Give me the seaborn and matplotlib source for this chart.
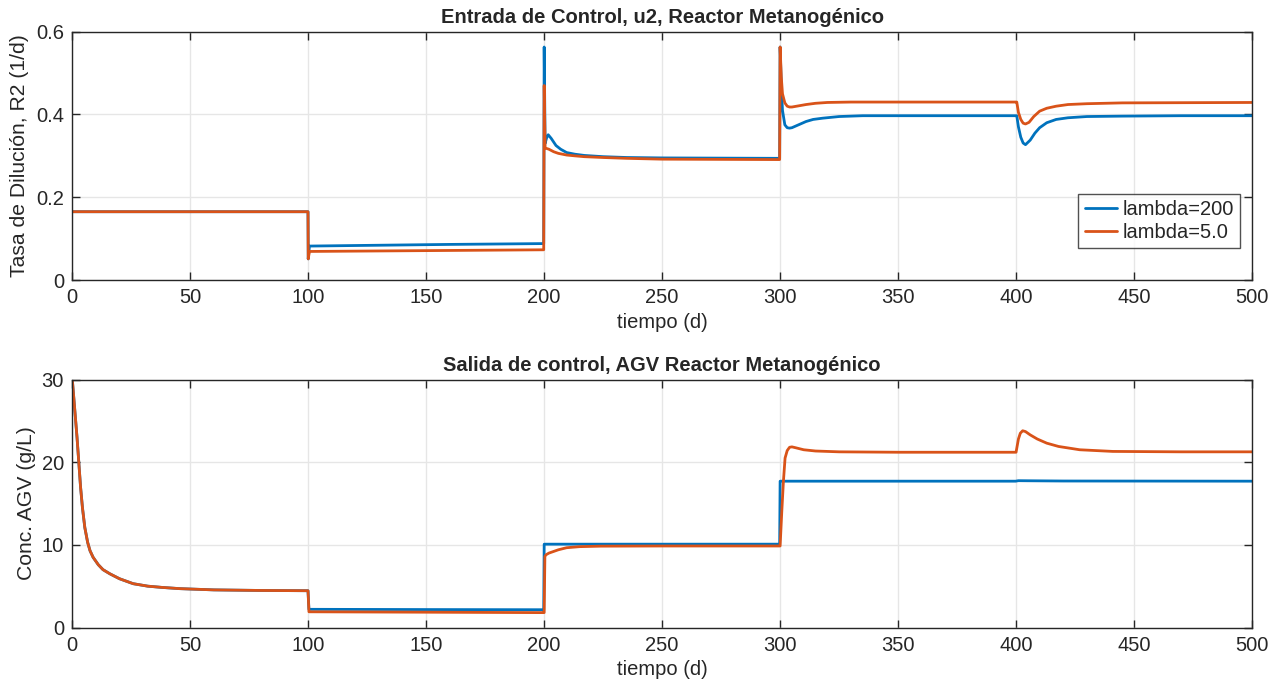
import numpy as np
import pandas as pd
import matplotlib
matplotlib.use("Agg")
import matplotlib.pyplot as plt
import seaborn as sns

# ---------------- data ----------------
series_names = ["lambda=200", "lambda=5.0"]
colors = ["#0072BD", "#D95319"]

# Top: control input u2 (dilution rate)
t_u_200 = [0, 99.9, 100, 100.5, 130, 160, 199.8, 200, 200.4, 201, 201.7, 203, 205, 207,
           209.5, 213, 217, 225, 235, 250, 299.8, 300, 300.5, 301, 302, 303, 304, 305,
           307, 309, 311, 314, 318, 325, 335, 399.8, 400.3, 401, 402, 403, 404, 406, 408,
           410, 413, 417, 422, 430, 445, 470, 500]
u_200 = [0.165, 0.165, 0.051, 0.082, 0.084, 0.086, 0.088, 0.563, 0.33, 0.343, 0.351, 0.342,
         0.325, 0.316, 0.308, 0.304, 0.301, 0.298, 0.296, 0.295, 0.294, 0.563, 0.47, 0.41,
         0.375, 0.368, 0.367, 0.368, 0.373, 0.378, 0.383, 0.388, 0.391, 0.395, 0.397,
         0.397, 0.397, 0.37, 0.345, 0.331, 0.327, 0.338, 0.355, 0.368, 0.380, 0.388, 0.392,
         0.395, 0.396, 0.397, 0.397]

t_u_5 = [0, 99.9, 100, 100.5, 150, 199.8, 200, 200.4, 202, 204, 206, 209.5, 213, 217, 225,
         235, 250, 299.8, 300, 300.5, 301, 302, 303, 304, 305, 307, 309, 311, 315, 320, 330,
         399.8, 400.3, 401, 402, 403, 404, 405.5, 407.5, 410, 413, 417, 422, 430, 445, 500]
u_5 = [0.165, 0.165, 0.051, 0.069, 0.071, 0.073, 0.47, 0.319, 0.316, 0.310, 0.306, 0.302,
       0.300, 0.298, 0.296, 0.294, 0.292, 0.291, 0.563, 0.49, 0.45, 0.428, 0.420, 0.418,
       0.418, 0.420, 0.422, 0.424, 0.427, 0.429, 0.430, 0.430, 0.430, 0.405, 0.388, 0.379,
       0.377, 0.381, 0.395, 0.408, 0.415, 0.420, 0.424, 0.426, 0.428, 0.429]

# Bottom: controlled output, AGV concentration
t_y_200 = [0, 1, 2, 2.75, 3.5, 4.3, 5.3, 6.5, 7.5, 8.8, 11, 13, 15.9, 20, 25.8, 32, 38, 45.6,
           60, 80, 99.9, 100.3, 150, 199.8, 200, 299.8, 300, 399.8, 401, 405, 420, 500]
y_200 = [30, 26.5, 23, 20, 17, 14.5, 12.1, 10.3, 9.3, 8.5, 7.6, 7.0, 6.5, 5.9, 5.3, 5.0,
         4.85, 4.7, 4.55, 4.48, 4.45, 2.2, 2.17, 2.15, 10.08, 10.08, 17.7, 17.7, 17.76,
         17.75, 17.72, 17.7]

t_y_5 = [0, 1, 2, 2.75, 3.5, 4.3, 5.3, 6.5, 7.5, 8.8, 11, 13, 15.9, 20, 25.8, 32, 38, 45.6,
         60, 80, 99.9, 100.3, 150, 199.8, 200, 200.3, 200.8, 202, 204, 206, 209.5, 215, 224,
         250, 299.8, 300, 300.7, 301.4, 302.1, 303, 304, 305, 306.5, 310, 315, 325, 350,
         399.8, 400, 400.5, 401, 401.8, 402.8, 404, 406, 409, 413, 418, 427, 441, 470, 500]
y_5 = [30, 26.5, 23, 20, 17, 14.5, 12.1, 10.3, 9.3, 8.5, 7.6, 7.0, 6.5, 5.9, 5.3, 5.0,
       4.85, 4.7, 4.55, 4.48, 4.45, 1.9, 1.85, 1.8, 1.8, 8.6, 8.8, 9.0, 9.2, 9.4, 9.65,
       9.78, 9.84, 9.86, 9.86, 9.86, 14.0, 17.7, 20.5, 21.4, 21.8, 21.85, 21.75, 21.5,
       21.35, 21.25, 21.2, 21.2, 21.2, 22.0, 22.8, 23.5, 23.8, 23.7, 23.3, 22.8, 22.3,
       21.9, 21.5, 21.3, 21.25, 21.25]

x_ticks = [0, 50, 100, 150, 200, 250, 300, 350, 400, 450, 500]
top_yticks = [0, 0.2, 0.4, 0.6]
top_yticklabels = ["0", "0.2", "0.4", "0.6"]
bot_yticks = [0, 10, 20, 30]

# ---------------- style ----------------
sns.set_theme(style="white")
plt.rcParams["font.family"] = ["Liberation Sans", "DejaVu Sans"]

fig = plt.figure(figsize=(12.83, 6.92), dpi=100)
ax1 = fig.add_axes([72.3 / 1283, 1 - 280 / 692, (1252 - 72.3) / 1283, (280 - 31.7) / 692])
ax2 = fig.add_axes([72.3 / 1283, 1 - 627.5 / 692, (1252 - 72.3) / 1283, (627.5 - 379.5) / 692])

def plot_series(ax, tx, vy, name, color):
    df = pd.DataFrame({"t": tx, "v": vy})
    sns.lineplot(data=df, x="t", y="v", ax=ax, color=color, linewidth=2.0,
                 estimator=None, sort=False, label=name)

plot_series(ax1, t_u_200, u_200, series_names[0], colors[0])
plot_series(ax1, t_u_5, u_5, series_names[1], colors[1])
plot_series(ax2, t_y_200, y_200, series_names[0], colors[0])
plot_series(ax2, t_y_5, y_5, series_names[1], colors[1])

fs = 14.5
lfs = 15.2
for ax in (ax1, ax2):
    ax.set_xlim(0, 500)
    ax.set_xticks(x_ticks)
    ax.set_xticklabels([str(v) for v in x_ticks])
    ax.grid(True, color="#e6e6e6", linewidth=1.0)
    ax.set_axisbelow(True)
    for s in ax.spines.values():
        s.set_color("#262626")
        s.set_linewidth(1.0)
    ax.tick_params(direction="in", length=6, width=1.0, color="#262626",
                   top=True, right=True, bottom=True, left=True,
                   labelsize=fs, labelcolor="#262626", pad=6)
    ax.set_xlabel("tiempo (d)", fontsize=fs, color="#262626", labelpad=4)

ax1.set_ylim(0, 0.6)
ax1.set_yticks(top_yticks)
ax1.set_yticklabels(top_yticklabels)
ax1.set_ylabel("Tasa de Dilución, R2 (1/d)", fontsize=lfs, color="#262626", labelpad=5)
ax1.set_title("Entrada de Control, u2, Reactor Metanogénico", fontsize=14.5,
              fontweight="bold", pad=6)

ax2.set_ylim(0, 30)
ax2.set_yticks(bot_yticks)
ax2.set_ylabel("Conc. AGV (g/L)", fontsize=lfs, color="#262626", labelpad=4)
ax2.set_title("Salida de control, AGV Reactor Metanogénico", fontsize=14.5,
              fontweight="bold", pad=6)

leg = ax1.legend(loc="lower right", bbox_to_anchor=(0.99, 0.129), borderaxespad=0,
                 fontsize=fs, frameon=True, fancybox=False, handlelength=1.6,
                 labelspacing=0.2, borderpad=0.3, handletextpad=0.3)
leg.get_frame().set_edgecolor("#262626")
leg.get_frame().set_linewidth(1.0)
ax2.get_legend().remove()

fig.savefig("out.png", dpi=100)
